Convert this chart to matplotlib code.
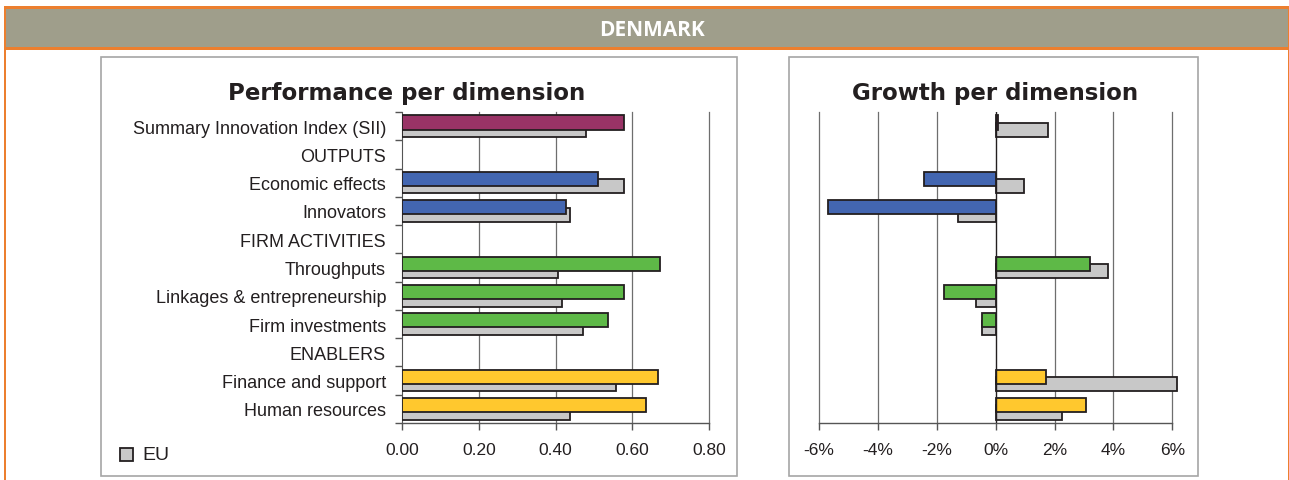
import matplotlib
matplotlib.use("Agg")
import matplotlib.pyplot as plt
import numpy as np
from matplotlib.patches import Rectangle

# ---------------- data ----------------
categories = ['Summary Innovation Index (SII)', 'OUTPUTS', 'Economic effects', 'Innovators',
              'FIRM ACTIVITIES', 'Throughputs', 'Linkages & entrepreneurship', 'Firm investments',
              'ENABLERS', 'Finance and support', 'Human resources']
perf_country = [0.579, np.nan, 0.511, 0.427, np.nan, 0.672, 0.579, 0.536, np.nan, 0.666, 0.635]
perf_eu      = [0.480, np.nan, 0.579, 0.438, np.nan, 0.407, 0.417, 0.470, np.nan, 0.558, 0.438]
growth_country = [0.08, np.nan, -2.45, -5.69, np.nan, 3.20, -1.77, -0.48, np.nan, 1.70, 3.06]
growth_eu      = [1.78, np.nan, 0.95, -1.29, np.nan, 3.81, -0.67, -0.48, np.nan, 6.15, 2.26]
bar_colors = ['#993366', None, '#4366B1', '#4366B1', None, '#5EB947', '#5EB947', '#5EB947',
              None, '#FFC82E', '#FFC82E']
perf_ticks = [0.0, 0.2, 0.4, 0.6, 0.8]
perf_ticklabels = ['0.00', '0.20', '0.40', '0.60', '0.80']
growth_ticks = [-6, -4, -2, 0, 2, 4, 6]
growth_ticklabels = ['-6%', '-4%', '-2%', '0%', '2%', '4%', '6%']
country = 'DENMARK'

W, H = 1289, 481
fig = plt.figure(figsize=(W / 100, H / 100), dpi=100)

def fx(x):
    return x / W

def fy(y):
    return 1 - y / H

def rect_px(x0, y0, x1, y1, **kw):
    r = Rectangle((fx(x0), fy(y1)), fx(x1) - fx(x0), fy(y0) - fy(y1),
                  transform=fig.transFigure, **kw)
    fig.patches.append(r)
    return r

ORANGE = '#EC7F2F'
# header
rect_px(4, 7, 1289, 9.5, facecolor=ORANGE, edgecolor='none', zorder=1)
rect_px(4, 9.5, 1289, 48, facecolor='#9F9E8B', edgecolor='none', zorder=1)
rect_px(4, 48, 1289, 51, facecolor=ORANGE, edgecolor='none', zorder=1)
rect_px(3.5, 7, 6, 481, facecolor=ORANGE, edgecolor='none', zorder=1)
rect_px(1287.5, 7, 1289, 481, facecolor=ORANGE, edgecolor='none', zorder=1)
fig.text(fx(652), fy(30), country, color='white', fontsize=15, fontweight='bold',
         family='Open Sans', ha='center', va='center')

# panel boxes
rect_px(100.5, 57.5, 737, 477, facecolor='none', edgecolor='#A6A6A6', lw=1.2, zorder=1)
rect_px(789, 57.5, 1197.5, 477, facecolor='none', edgecolor='#A6A6A6', lw=1.2, zorder=1)

FONT = 'Liberation Sans'
EDGE = '#231F20'
GRID = '#6E6E6E'
n = len(categories)
y = np.arange(n)
off = 0.13
h = 0.5

def setup_axes(ax):
    ax.set_ylim(n - 0.5, -0.5)
    for s in ['top', 'right', 'left']:
        ax.spines[s].set_visible(False)
    ax.spines['bottom'].set_color('#555555')
    ax.spines['bottom'].set_linewidth(1.0)
    ax.set_facecolor('none')

# ---------------- left chart ----------------
axL = fig.add_axes([fx(402), fy(424), fx(709.3) - fx(402), fy(113) - fy(424)])
setup_axes(axL)
axL.set_xlim(0, 0.8)
for i in range(n):
    if np.isnan(perf_country[i]):
        continue
    axL.barh(y[i] + off, perf_eu[i], height=h, color='#C8C8C8', edgecolor=EDGE, lw=1.3, zorder=3)
    axL.barh(y[i] - off, perf_country[i], height=h, color=bar_colors[i], edgecolor=EDGE, lw=1.3, zorder=4)
for t in perf_ticks[1:]:
    axL.axvline(t, color=GRID, lw=0.9, zorder=1, clip_on=False)
axL.spines['left'].set_visible(True)
axL.spines['left'].set_color('#555555')
axL.set_yticks(np.arange(-0.5, n, 1.0))
axL.set_yticklabels([])
axL.set_yticks(y, minor=True)
axL.set_yticklabels(categories, minor=True, fontsize=13, family=FONT, color='#231F20')
axL.tick_params(axis='y', which='major', length=5, width=1, color='#555555', direction='out')
axL.tick_params(axis='y', which='minor', length=0, pad=11.5)
axL.set_xticks(perf_ticks)
axL.set_xticklabels(perf_ticklabels, fontsize=12.5, family=FONT, color='#231F20')
axL.tick_params(axis='x', length=5, width=1, color='#555555', pad=9)
fig.text(fx(407), fy(93.5), 'Performance per dimension', fontsize=16.5, fontweight='bold',
         family='DejaVu Sans', ha='center', va='center', color='#231F20')

# legend
rect_px(120, 449, 133, 462, facecolor='#C8C8C8', edgecolor=EDGE, lw=1.3, zorder=2)
fig.text(fx(142), fy(455.5), 'EU', fontsize=14, family=FONT, ha='left', va='center', color='#231F20')

# ---------------- right chart ----------------
axR = fig.add_axes([fx(819), fy(424), fx(1172.3) - fx(819), fy(113) - fy(424)])
setup_axes(axR)
axR.set_xlim(-6, 6)
for i in range(n):
    if np.isnan(growth_country[i]):
        continue
    axR.barh(y[i] + off, growth_eu[i], height=h, color='#C8C8C8', edgecolor=EDGE, lw=1.3,
             zorder=3, clip_on=False)
    axR.barh(y[i] - off, growth_country[i], height=h, color=bar_colors[i], edgecolor=EDGE, lw=1.3,
             zorder=4)
for t in growth_ticks:
    if t != 0:
        axR.axvline(t, color=GRID, lw=0.9, zorder=1, clip_on=False)
axR.axvline(0, color='#231F20', lw=1.0, zorder=5)
axR.set_yticks([])
axR.set_xticks(growth_ticks)
axR.set_xticklabels(growth_ticklabels, fontsize=12.5, family=FONT, color='#231F20')
axR.tick_params(axis='x', length=5, width=1, color='#555555', pad=9)
fig.text(fx(995), fy(93.5), 'Growth per dimension', fontsize=16.5, fontweight='bold',
         family='DejaVu Sans', ha='center', va='center', color='#231F20')

fig.savefig('out.png', dpi=100)
